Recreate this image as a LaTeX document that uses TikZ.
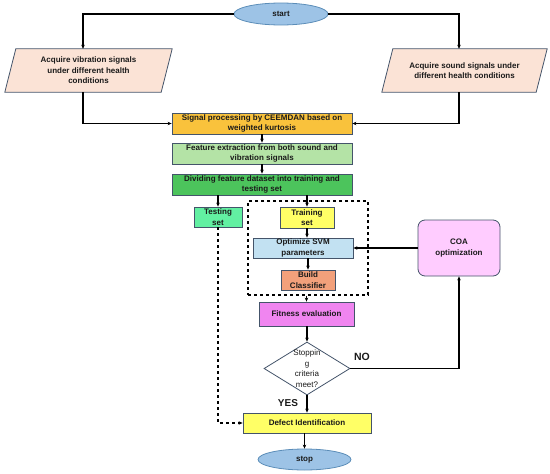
\documentclass[tikz,border=0pt]{standalone}
\usepackage{fontspec}
\setmainfont{Liberation Sans}
\usetikzlibrary{arrows.meta,shapes.geometric,backgrounds}
\definecolor{ellfill}{HTML}{9DC3E6}
\definecolor{ellline}{HTML}{5B8DB8}
\definecolor{parafill}{HTML}{FBE3D6}
\definecolor{boxline}{HTML}{44546A}
\definecolor{sigfill}{HTML}{F9C23C}
\definecolor{featfill}{HTML}{B4E3A6}
\definecolor{divfill}{HTML}{4CC45C}
\definecolor{testfill}{HTML}{62F0A2}
\definecolor{yelfill}{HTML}{FFFF66}
\definecolor{svmfill}{HTML}{C2E1F2}
\definecolor{buildfill}{HTML}{F2A07B}
\definecolor{fitfill}{HTML}{F085F0}
\definecolor{coafill}{HTML}{FFCCFF}
\definecolor{txt}{HTML}{1A1A1A}
\begin{document}
\begin{tikzpicture}[x=1pt,y=-1pt,
  base/.style={inner sep=0pt, align=center, text=txt, font=\fontsize{8}{10.6}\selectfont\bfseries},
  box/.style={base, rectangle, draw=boxline, line width=0.8pt},
  term/.style={base, ellipse, draw=ellline, line width=0.8pt, fill=ellfill},
  arr/.style={-{Stealth[length=4pt,width=3.5pt]}, line width=1.1pt, black},
  lbl/.style={font=\fontsize{10.5}{12}\selectfont\bfseries, text=txt, inner sep=0pt}
]
\useasboundingbox (0,0) rectangle (550,474);

% terminals
\node[term, minimum width=94pt, minimum height=22pt] (start) at (281,14) {start};
\node[term, minimum width=93pt, minimum height=21pt] (stop) at (304.5,459.5) {stop};

% input parallelograms (text nodes, shapes drawn on background)
\node[base, minimum width=156pt, minimum height=43pt] (vib) at (88.5,70.5)
  {Acquire vibration signals\\under different health\\conditions};
\node[base, minimum width=154pt, minimum height=43pt] (snd) at (464.5,70.5)
  {Acquire sound signals under\\different health conditions};
\begin{scope}[on background layer]
  \filldraw[fill=parafill, draw=boxline, line width=0.8pt]
    ([xshift=5.5pt]vib.north west) -- ([xshift=5.5pt]vib.north east) --
    ([xshift=-5.5pt]vib.south east) -- ([xshift=-5.5pt]vib.south west) -- cycle;
  \filldraw[fill=parafill, draw=boxline, line width=0.8pt]
    ([xshift=5.5pt]snd.north west) -- ([xshift=5.5pt]snd.north east) --
    ([xshift=-5.5pt]snd.south east) -- ([xshift=-5.5pt]snd.south west) -- cycle;
\end{scope}

% processing chain
\node[box, fill=sigfill, minimum width=180pt, minimum height=21pt] (sig) at (262,123.5)
  {Signal processing by CEEMDAN based on\\weighted kurtosis};
\node[box, fill=featfill, minimum width=180pt, minimum height=21pt] (feat) at (262,153.5)
  {Feature extraction from both sound and\\vibration signals};
\node[box, fill=divfill, minimum width=180pt, minimum height=21pt] (div) at (262,184.5)
  {Dividing feature dataset into training and\\testing set};

\node[box, fill=testfill, minimum width=48pt, minimum height=20pt] (test) at (218,217)
  {Testing\\set};
\node[draw, dashed, line width=1.1pt, minimum width=120pt, minimum height=94pt, inner sep=0pt] (grp) at (308,248) {};
\node[box, fill=yelfill, minimum width=54pt, minimum height=21pt] (train) at (307,217.5)
  {Training\\set};
\node[box, fill=svmfill, minimum width=100pt, minimum height=20pt] (svm) at (303,248)
  {Optimize SVM\\parameters};
\node[box, fill=buildfill, minimum width=54pt, minimum height=20pt] (build) at (308,280)
  {Build\\Classifier};
\node[box, fill=fitfill, minimum width=95pt, minimum height=24pt] (fit) at (306.5,314)
  {Fitness evaluation};
\node[diamond, draw=boxline, line width=0.8pt, fill=white, minimum width=86pt, minimum height=53pt, inner sep=0pt] (dia) at (307,368.5) {};
\node[base, font=\fontsize{8}{10.6}\selectfont] (diatext) at (dia.center) {Stoppin\\g\\criteria\\meet?};
\node[box, fill=coafill, rounded corners=7pt, minimum width=82pt, minimum height=56pt] (coa) at (459,248)
  {COA\\optimization};
\node[box, fill=yelfill, minimum width=128pt, minimum height=20pt] (def) at (307,423)
  {Defect Identification};

% labels
\node[lbl] (no) at (362,357) {NO};
\node[lbl, font=\fontsize{10}{12}\selectfont\bfseries] (yes) at (288,403) {YES};

% connectors
\draw[arr] (start.west) -| ([xshift=-5.5pt]vib.north);
\draw[arr] (start.east) -| ([xshift=-5.5pt]snd.north);
\draw[arr] ([xshift=-5.5pt]vib.south) |- (sig.west);
\draw[arr] ([xshift=-5.5pt]snd.south) |- (sig.east);
\draw[arr] (sig.south) -- (feat.north);
\draw[arr] (feat.south) -- (div.north);
\draw[arr] (div.south -| test.north) -- (test.north);
\draw[arr] (div.south -| train.north) -- (train.north);
\draw[arr] (train.south) -- (train.south |- svm.north);
\draw[arr] (svm.south -| build.north) -- (build.north);
\draw[arr] (grp.south -| fit.north) -- (fit.north);
\draw[arr] (fit.south -| dia.north) -- (dia.north);
\draw[arr] (dia.east) -| (coa.south);
\draw[arr] (coa.west) -- (svm.east);
\draw[arr] (dia.south) -- (def.north);
\draw[arr, dashed] (test.south) |- (def.west);
\draw[arr] (def.south -| stop.north) -- (stop.north);
\end{tikzpicture}
\end{document}
